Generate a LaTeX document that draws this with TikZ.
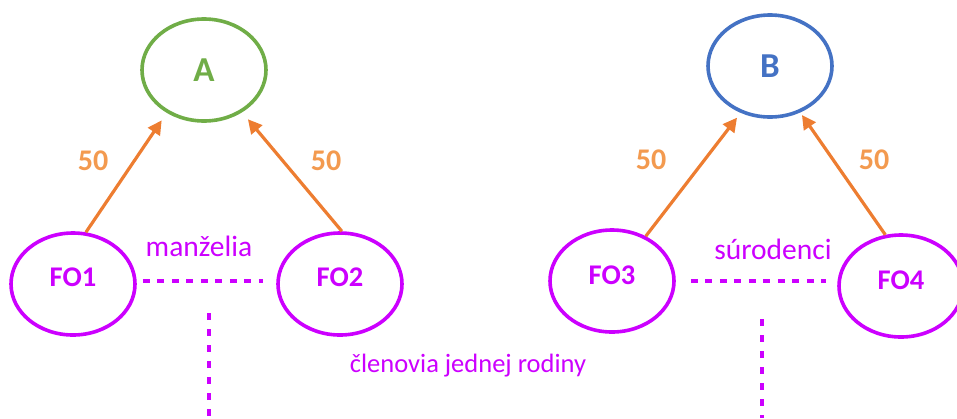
\documentclass[tikz,border=0pt]{standalone}
\usepackage{fontspec}
\setmainfont{Carlito}
\usetikzlibrary{shapes.geometric,arrows.meta}
\definecolor{cgreen}{HTML}{70AD47}
\definecolor{cblue}{HTML}{4472C4}
\definecolor{corange}{HTML}{ED7D31}
\definecolor{clabel}{HTML}{F39A4F}
\definecolor{cmag}{HTML}{CC00FF}
\tikzset{
  oval/.style={ellipse, draw, line width=3.6pt, minimum width=124pt, minimum height=102pt, inner sep=0pt},
  fobox/.style={oval, draw=cmag},
  fotext/.style={text=cmag, font=\fontsize{28.5}{32}\selectfont\bfseries},
  topbox/.style={oval, font=\fontsize{35}{40}\selectfont\bfseries},
  share/.style={draw=corange, line width=3.2pt, -{Triangle[length=14pt,width=14pt]}},
  sharelabel/.style={text=clabel, font=\fontsize{30}{33}\selectfont\bfseries},
  reltext/.style={text=cmag, font=\fontsize{29.5}{33}\selectfont},
  famtext/.style={text=cmag, font=\fontsize{26.5}{30}\selectfont},
  reldash/.style={draw=cmag, line width=3.4pt, dash pattern=on 7pt off 7.5pt},
  famdash/.style={draw=cmag, line width=3.4pt, dash pattern=on 7pt off 9pt},
}
\begin{document}
\begin{tikzpicture}[x=1pt,y=-1pt]
\useasboundingbox (0,0) rectangle (957,418);
% top entities
\node[topbox, draw=cgreen, text=cgreen] (A) at (204,70) {A};
\node[topbox, draw=cblue, text=cblue] (B) at (770,66) {B};
% persons
\node[fobox, label={[fotext, yshift=7pt]center:FO1}] (FO1) at (73,284) {};
\node[fobox, label={[fotext, yshift=7pt]center:FO2}] (FO2) at (340,284) {};
\node[fobox, label={[fotext, yshift=6pt]center:FO3}] (FO3) at (612,281) {};
\node[fobox, label={[fotext, yshift=6pt]center:FO4}] (FO4) at (901,286) {};
% share arrows
\draw[share, shorten >=9pt] (FO1.76) -- (A.229);
\draw[share, shorten >=9pt] (FO2.88) -- (A.312);
\draw[share, shorten >=6pt] (FO3.53) -- (B.238);
\draw[share, shorten >=3pt] (FO4.107) -- (B.303);
% share labels
\node[sharelabel] (s1) at (93,161) {50};
\node[sharelabel] (s2) at (326,161) {50};
\node[sharelabel] (s3) at (651,160) {50};
\node[sharelabel] (s4) at (874,160) {50};
% relations
\node[reltext] (rel1) at (199,246) {manželia};
\node[reltext] (rel2) at (773,249) {súrodenci};
\draw[reldash, shorten <=6pt, shorten >=13pt] ([yshift=3pt]FO1.east) -- ([yshift=3pt]FO1.east -| FO2.west);
\draw[reldash, shorten <=15pt, shorten >=11pt] (FO3.east) -- (FO3.east -| FO4.west);
% family
\node[famtext] (fam) at (468,366) {členovia jednej rodiny};
\coordinate (f1top) at (209,313);
\coordinate (f1bot) at (209,418);
\coordinate (f2top) at (762,319);
\coordinate (f2bot) at (762,418);
\draw[famdash] (f1top) -- (f1bot);
\draw[famdash] (f2top) -- (f2bot);
\end{tikzpicture}
\end{document}
